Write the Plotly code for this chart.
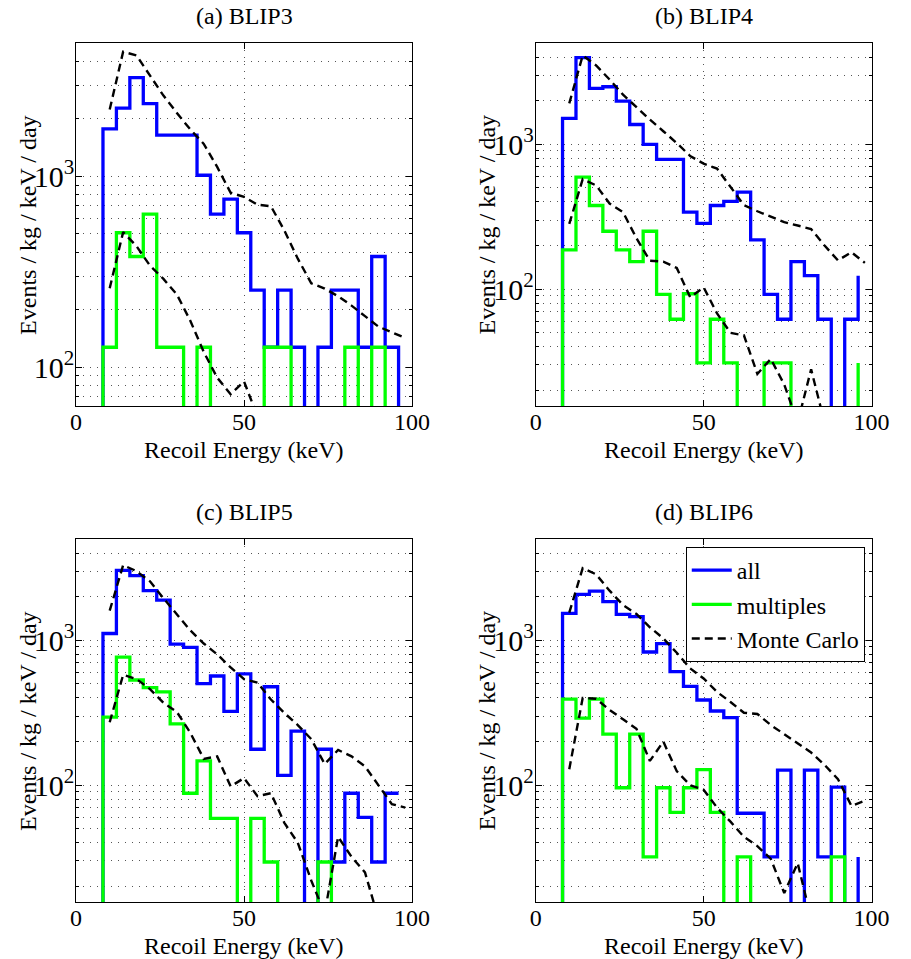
import math
import plotly.graph_objects as go

# ---------------- data ----------------
# histogram bin edges (keV); last point only draws the final vertical step
EDGES = [8, 12, 16, 20, 24, 28, 32, 36, 40, 44, 48, 52, 56, 60, 64, 68, 72, 76, 80, 84, 88, 92, 96]
# Monte Carlo sample energies (keV)
MC_X = [10, 14, 18, 22, 26, 30, 34, 38, 42, 46, 50, 54, 58, 62, 66, 70, 74, 78, 82, 86, 90, 94, 98]

# (a) BLIP3
A_ALL = [1772, 2279, 3292, 2405, 1646, 1646, 1646, 1013, 633, 760, 506, 253, 127, 253, 127, 0, 127, 253, 253, 127, 380, 127, 0]
A_MULT = [127, 506, 380, 633, 127, 127, 0, 127, 0, 0, 0, 0, 127, 127, 0, 0, 0, 0, 127, 0, 127, 0, 0]
A_MC_ALL = [2240, 4500, 4300, 3400, 2650, 2150, 1760, 1480, 1120, 820, 780, 710, 697, 520, 370, 275, 258, 235, 210, 185, 163, 152, 142]
A_MC_MULT = [259, 510, 430, 340, 290, 240, 175, 120, 88, 72, 84, 55]

# (b) BLIP4
B_ALL = [1507, 3963, 2432, 2494, 1988, 1369, 1000, 787, 787, 340, 285, 378, 404, 467, 219, 92, 62, 155, 124, 62, 0, 62, 124]
B_MULT = [187, 593, 378, 251, 187, 155, 251, 92, 62, 93, 31, 62, 31, 0, 0, 31, 31, 0, 0, 0, 0, 0, 31]
B_MC_ALL = [1914, 4100, 3500, 2800, 2200, 1800, 1480, 1230, 1020, 830, 735, 680, 510, 380, 345, 315, 290, 275, 260, 200, 158, 180, 152]
B_MC_MULT = [282, 575, 520, 390, 340, 225, 157, 155, 140, 88, 103, 68, 50, 48, 26, 33, 22, 12, 28, 12]

# (c) BLIP5
C_ALL = [1114, 3034, 2798, 2198, 1893, 942, 893, 503, 567, 323, 587, 177, 478, 117, 236, 0, 177, 29.5, 88, 60, 29.5, 88, 88]
C_MULT = [295, 765, 532, 472, 441, 265, 88, 147, 59, 59, 0, 59, 29.5, 0, 0, 0, 29.5, 0, 0, 0, 0, 0, 0]
C_MC_ALL = [1600, 3300, 3000, 2550, 1950, 1500, 1170, 950, 800, 650, 540, 510, 390, 315, 260, 208, 140, 175, 158, 135, 100, 74, 70]
C_MC_MULT = [272, 577, 540, 460, 370, 320, 230, 152, 158, 98, 112, 84, 88, 55, 40, 22, 13, 44, 32, 25, 12]

# (d) BLIP6
D_ALL = [1535, 2075, 2187, 1849, 1511, 1456, 830, 949, 608, 480, 387, 325, 293, 64, 64, 32, 127, 0, 127, 32, 97, 0, 32]
D_MULT = [392, 290, 392, 225, 96, 225, 32, 96, 65, 96, 128, 65, 0, 32, 0, 0, 0, 0, 0, 0, 32, 0, 0]
D_MC_ALL = [1550, 3150, 2850, 2200, 1750, 1520, 1230, 1030, 820, 640, 545, 440, 375, 316, 310, 260, 225, 195, 168, 138, 110, 72, 78]
D_MC_MULT = [129, 400, 395, 330, 285, 245, 147, 200, 125, 100, 93, 70, 56, 44, 38, 31, 18, 29, 12]

TITLES = ["(a) BLIP3", "(b) BLIP4", "(c) BLIP5", "(d) BLIP6"]
Y_MIN = [62.5, 15.625, 15.625, 15.625]
Y_MAX = 5000
X_TICKS = [0, 50, 100]

PANELS = [
    (A_ALL, A_MULT, A_MC_ALL, A_MC_MULT),
    (B_ALL, B_MULT, B_MC_ALL, B_MC_MULT),
    (C_ALL, C_MULT, C_MC_ALL, C_MC_MULT),
    (D_ALL, D_MULT, D_MC_ALL, D_MC_MULT),
]

# ---------------- layout geometry (pixels) ----------------
W, H = 911, 959
FONT = "Liberation Serif, Times New Roman, Times, serif"
FS = 24
FLOOR = 1e-3  # zero counts drawn below the axis floor (log scale)

# plot boxes: (left, right, top, bottom) in px
BOXES = [(72, 417, 43, 406), (544, 889, 43, 406), (72, 417, 539, 902), (544, 889, 539, 902)]


def fx(px):
    return px / W


def fy(py):
    return 1 - py / H


def stairs(vals):
    xs = [EDGES[0]] + EDGES
    ys = [FLOOR] + [v if v > 0 else FLOOR for v in vals]
    return xs, ys


fig = go.Figure()
DASH = "8px,5px"

for i, (all_v, mult_v, mc_all, mc_mult) in enumerate(PANELS):
    xa = "x" if i == 0 else f"x{i+1}"
    ya = "y" if i == 0 else f"y{i+1}"
    leg = i == 3
    x, y = stairs(all_v)
    fig.add_trace(go.Scatter(x=x, y=y, mode="lines", line=dict(color="#0000ff", width=3.3, shape="hv"),
                             name="all", showlegend=leg, xaxis=xa, yaxis=ya))
    x, y = stairs(mult_v)
    fig.add_trace(go.Scatter(x=x, y=y, mode="lines", line=dict(color="#00ff00", width=3.3, shape="hv"),
                             name="multiples", showlegend=leg, xaxis=xa, yaxis=ya))
    fig.add_trace(go.Scatter(x=MC_X[:len(mc_all)], y=mc_all, mode="lines",
                             line=dict(color="black", width=2.4, dash=DASH),
                             name="Monte Carlo", showlegend=leg, xaxis=xa, yaxis=ya))
    fig.add_trace(go.Scatter(x=MC_X[:len(mc_mult)], y=mc_mult, mode="lines",
                             line=dict(color="black", width=2.4, dash=DASH),
                             name="Monte Carlo", showlegend=False, xaxis=xa, yaxis=ya))

GRID = dict(showgrid=True, gridcolor="#555555", gridwidth=1, griddash="1px,6px")
annotations = []
for i, (l, r, t, b) in enumerate(BOXES):
    sx = "" if i == 0 else str(i + 1)
    xa = dict(domain=[fx(l), fx(r)], range=[0, 100], tickmode="array", tickvals=X_TICKS,
              ticks="inside", ticklen=6, tickcolor="black", showline=True, linecolor="black",
              linewidth=1, mirror="ticks", zeroline=False, anchor="y" + sx,
              ticklabelstandoff=-6,
              tickfont=dict(family=FONT, size=FS, color="black"), **GRID)
    ya = dict(domain=[fy(b), fy(t)], type="log",
              range=[math.log10(Y_MIN[i]), math.log10(Y_MAX)], dtick=1, exponentformat="power",
              ticks="inside", ticklen=6, tickcolor="black", showline=True, linecolor="black",
              linewidth=1, mirror="ticks", zeroline=False, anchor="x" + sx,
              ticklabelstandoff=-4,
              tickfont=dict(family=FONT, size=FS, color="black"),
              minor=dict(dtick="D1", ticks="inside", ticklen=3, tickcolor="black",
                         showgrid=True, gridcolor="#555555", gridwidth=1, griddash="1px,6px"),
              **GRID)
    fig.layout["xaxis" + sx] = xa
    fig.layout["yaxis" + sx] = ya
    cx = (l + r) / 2
    annotations.append(dict(text=TITLES[i], x=fx(cx), y=fy(t - 27), xref="paper", yref="paper",
                            showarrow=False, xanchor="center", yanchor="middle",
                            font=dict(family=FONT, size=FS, color="black")))
    annotations.append(dict(text="Recoil Energy (keV)", x=fx(cx), y=fy(b + 44), xref="paper", yref="paper",
                            showarrow=False, xanchor="center", yanchor="middle",
                            font=dict(family=FONT, size=FS, color="black")))
    annotations.append(dict(text="Events / kg / keV / day", x=fx(l - 50), y=fy((t + b) / 2),
                            xref="paper", yref="paper", textangle=-90,
                            showarrow=False, xanchor="center", yanchor="middle",
                            font=dict(family=FONT, size=FS, color="black")))

fig.update_layout(
    width=W, height=H, margin=dict(l=0, r=0, t=0, b=0),
    paper_bgcolor="white", plot_bgcolor="white",
    font=dict(family=FONT, size=FS, color="black"),
    annotations=annotations,
    legend=dict(x=fx(882), y=fy(547), xanchor="right", yanchor="top",
                bgcolor="white", bordercolor="black", borderwidth=1, itemwidth=40,
                font=dict(family=FONT, size=FS, color="black"), tracegroupgap=0),
)

fig.write_html("out.html")
